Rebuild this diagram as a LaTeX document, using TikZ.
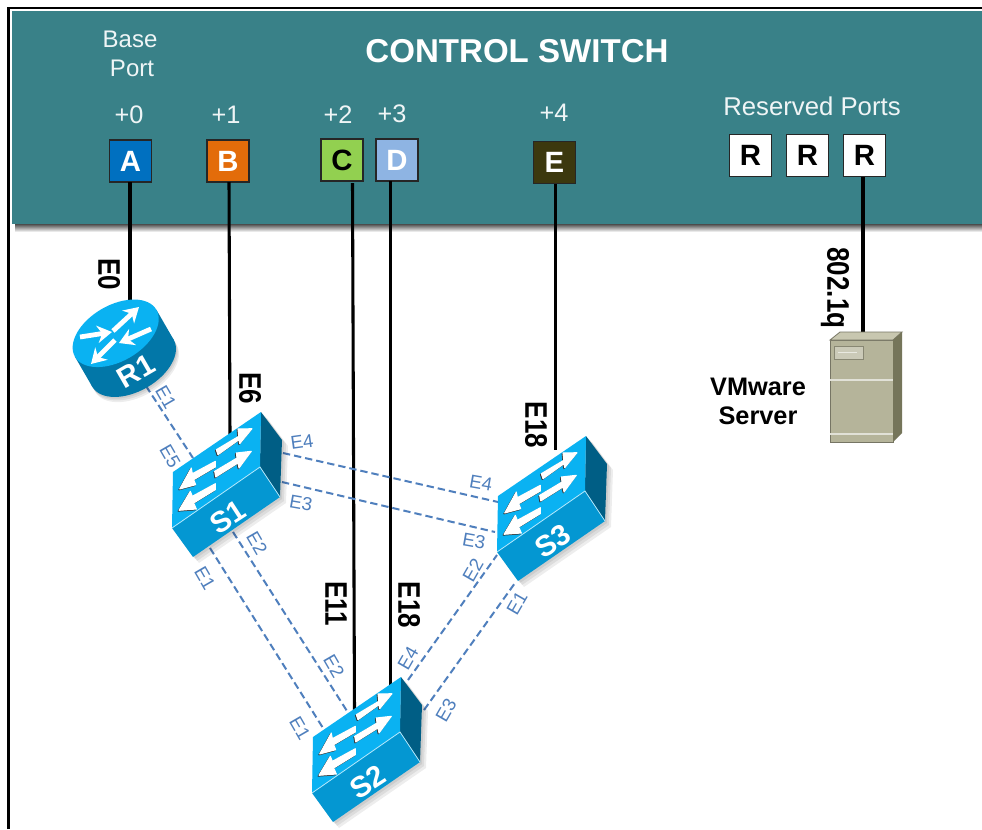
\documentclass[tikz,border=0pt]{standalone}
\usetikzlibrary{arrows.meta}
\usepackage{graphicx}
\usepackage{fontspec}
\setmainfont{Liberation Sans}
\definecolor{teal1}{HTML}{398188}
\definecolor{dash1}{HTML}{4F7FBD}
\definecolor{lab1}{HTML}{4F7FBD}
\definecolor{swtop}{HTML}{0AB2F2}
\definecolor{swfront}{HTML}{0497D2}
\definecolor{swside}{HTML}{005E85}
\definecolor{rtbody}{HTML}{0277A8}
\definecolor{srvfront}{HTML}{B5B49A}
\definecolor{srvtop}{HTML}{C8C7B0}
\definecolor{srvside}{HTML}{75755A}
\newcommand{\tallrot}[1]{\scalebox{1}[1.2]{#1}}
\tikzset{
  x=0.75pt,y=-0.75pt,
  portbox/.style={draw=black!85,line width=0.9pt,minimum size=31.5pt,inner sep=0pt,font=\fontsize{22}{24}\selectfont\bfseries,text=white},
  toplabel/.style={text=white!92!teal1,font=\fontsize{18}{20}\selectfont,inner sep=0pt},
  pluslabel/.style={text=white!92!teal1,font=\fontsize{19}{21}\selectfont,inner sep=0pt},
  blackline/.style={black,line width=2.3pt},
  dashlink/.style={dash1,line width=1.5pt,dash pattern=on 5.5pt off 3pt},
  smalllabel/.style={text=lab1,font=\fontsize{14}{16}\selectfont,inner sep=0pt},
  bigrot/.style={font=\fontsize{19.5}{21}\selectfont\bfseries,inner sep=0pt,rotate=-90,text=black},
  devlabel/.style={text=white,font=\fontsize{22}{24}\selectfont\bfseries,inner sep=0pt},
  swarrow/.style={fill=white,draw=white,line width=.8pt,line join=round},
  swarrowdark/.style={fill=black!80,draw=black!80,line width=.8pt,line join=round},
  pics/switchicon/.style={code={
    \foreach \s in {2,4,6}{
      \fill[black,opacity=.07] (\s,\s-56) -- (\s+89,\s-116) -- (\s+110,\s-88) -- (\s+108,\s-31) -- (\s+21,\s+29) -- (\s,\s) -- cycle;
    }
    \fill[swside] (89,-116) -- (110,-88) -- (108,-31) -- (88,-61) -- cycle;
    \fill[swfront] (0,0) -- (88,-61) -- (108,-31) -- (21,29) -- cycle;
    \fill[swtop] (1,-56) -- (89,-116) -- (88,-61) -- (0,0) -- cycle;
    \draw[white!70!swtop,line width=.6pt] (0,0) -- (88,-61) -- (108,-31);
    \begin{scope}[shift={(-.8,.8)}]
      \path[swarrowdark] (44.3,-78.3) -- (66.7,-91.7) -- (66,-99) -- (80,-99.3) -- (67.7,-84.3) -- (67,-88.3) -- (46,-73.3) -- cycle;
      \path[swarrowdark] (42.7,-56.7) -- (65,-70) -- (64.3,-75) -- (79.3,-76.7) -- (67,-60) -- (66,-65) -- (43.7,-51) -- cycle;
      \path[swarrowdark] (43.3,-66.7) -- (20.3,-54.3) -- (19.3,-60) -- (7.7,-39) -- (23.7,-43.3) -- (21.7,-48.3) -- (43.3,-61) -- cycle;
      \path[swarrowdark] (43.3,-44.3) -- (20.3,-31.7) -- (18.3,-36.7) -- (7,-17.7) -- (24.3,-19) -- (21.7,-25) -- (43.3,-38.3) -- cycle;
    \end{scope}
    \path[swarrow] (44.3,-78.3) -- (66.7,-91.7) -- (66,-99) -- (80,-99.3) -- (67.7,-84.3) -- (67,-88.3) -- (46,-73.3) -- cycle;
    \path[swarrow] (42.7,-56.7) -- (65,-70) -- (64.3,-75) -- (79.3,-76.7) -- (67,-60) -- (66,-65) -- (43.7,-51) -- cycle;
    \path[swarrow] (43.3,-66.7) -- (20.3,-54.3) -- (19.3,-60) -- (7.7,-39) -- (23.7,-43.3) -- (21.7,-48.3) -- (43.3,-61) -- cycle;
    \path[swarrow] (43.3,-44.3) -- (20.3,-31.7) -- (18.3,-36.7) -- (7,-17.7) -- (24.3,-19) -- (21.7,-25) -- (43.3,-38.3) -- cycle;
  }}
}
\begin{document}
\begin{tikzpicture}
\useasboundingbox (0,0) rectangle (982,829);
\fill[white] (0,0) rectangle (982,829);
% frame
\draw[black,line width=2pt] (8.5,829) -- (8.5,8) -- (982,8);
% header
\shade[top color=black!70,bottom color=white] (15,224) rectangle (982,232);
\fill[teal1] (12,11) rectangle (982,224);
\node[text=white,font=\fontsize{24.8}{26}\selectfont\bfseries,inner sep=0pt] (title) at (517,51) {CONTROL SWITCH};
\node[toplabel] (base) at (130,39) {Base};
\node[toplabel] (port) at (132,68) {Port};
\node[pluslabel] (p0) at (129,115) {+0};
\node[pluslabel] (p1) at (226,115) {+1};
\node[pluslabel] (p2) at (338,115) {+2};
\node[pluslabel] (p3) at (392,114) {+3};
\node[pluslabel] (p4) at (554,113) {+4};
\node[text=white!92!teal1,font=\fontsize{19.3}{21}\selectfont,inner sep=0pt] (resv) at (812,106) {Reserved Ports};
\node[portbox,fill={rgb,255:red,0;green,112;blue,192}] (A) at (130.5,161) {A};
\node[portbox,fill={rgb,255:red,227;green,108;blue,10}] (B) at (228,161) {B};
\node[portbox,fill={rgb,255:red,146;green,208;blue,80},text=black] (C) at (342,160) {C};
\node[portbox,fill={rgb,255:red,142;green,180;blue,227}] (D) at (397,160) {D};
\node[portbox,fill={rgb,255:red,60;green,56;blue,14}] (E) at (554.5,162.5) {E};
\node[portbox,fill=white,text=black] (R1p) at (750.5,155.5) {R};
\node[portbox,fill=white,text=black] (R2p) at (807.5,155.5) {R};
\node[portbox,fill=white,text=black] (R3p) at (864.5,155.5) {R};
% connector end points
\coordinate (aend) at (130,182);
\coordinate (bend) at (229,182);
\coordinate (cend) at (352.5,183);
\coordinate (dend) at (390.5,181);
\coordinate (eend) at (555.5,184);
\coordinate (rend) at (863,177);
\coordinate (r1top) at (130,302);
\coordinate (s1top) at (230,435);
\coordinate (s2a) at (354.5,712);
\coordinate (s2b) at (390.5,695);
\coordinate (s3top) at (555.5,450);
\coordinate (srvtopc) at (863,334);
\coordinate (r1e1) at (146,386);
\coordinate (s1e5) at (193,458);
\coordinate (s1e4) at (283,453);
\coordinate (s3e4) at (498,502);
\coordinate (s1e3) at (282,482);
\coordinate (s3e3) at (495,532);
\coordinate (s1e2) at (233,532);
\coordinate (s2e2) at (347,711);
\coordinate (s1e1) at (210,548);
\coordinate (s2e1) at (323,728);
\coordinate (s2e4) at (408,680);
\coordinate (s3e2) at (497,555);
\coordinate (s2e3) at (424,710);
\coordinate (s3e1) at (515,583);
% links
\draw[blackline] (aend) -- (r1top);
\draw[blackline] (bend) -- (s1top);
\draw[blackline] (cend) -- (s2a);
\draw[blackline] (dend) -- (s2b);
\draw[blackline] (eend) -- (s3top);
\draw[blackline] (rend) -- (srvtopc);
\draw[dashlink] (r1e1) -- (s1e5);
\draw[dashlink] (s1e4) -- (s3e4);
\draw[dashlink] (s1e3) -- (s3e3);
\draw[dashlink] (s1e2) -- (s2e2);
\draw[dashlink] (s1e1) -- (s2e1);
\draw[dashlink] (s2e4) -- (s3e2);
\draw[dashlink] (s2e3) -- (s3e1);
% router
\begin{scope}[shift={(115.7,333.3)},rotate=30]
  \foreach \s in {2,4,6}{
    \fill[black,opacity=.07] (0,34.5+\s) ellipse [x radius=47,y radius=28];
  }
  \fill[rtbody] (0,34.5) ellipse [x radius=47,y radius=28];
  \fill[rtbody] (-47,0) rectangle (47,34.5);
  \fill[swtop] (0,0) ellipse [x radius=47,y radius=28];
\end{scope}
\coordinate (ra1) at (113,331); \coordinate (ra1t) at (139,307);
\coordinate (ra2) at (151,329); \coordinate (ra2t) at (119,343);
\coordinate (ra3) at (80,337); \coordinate (ra3t) at (112,332);
\coordinate (ra4) at (115,340); \coordinate (ra4t) at (91,364);
\foreach \p/\q in {ra1/ra1t,ra2/ra2t,ra3/ra3t,ra4/ra4t}{
  \draw[white,line width=3.6pt,-{Stealth[length=11pt,width=13pt]}] (\p) -- (\q);
}
\node[devlabel,rotate=30] (r1lab) at (136,371) {R1};
% switches
\pic (s1) at (172,528) {switchicon};
\pic (s2) at (312,793) {switchicon};
\pic (s3) at (497,552) {switchicon};
\node[devlabel,rotate=33] (s1lab) at (228,517) {S1};
\node[devlabel,rotate=33] (s2lab) at (368,782) {S2};
\node[devlabel,rotate=33] (s3lab) at (553,541) {S3};
% server
\fill[srvfront,draw=black!35!srvfront,line width=.6pt] (830,340) rectangle (893,442);
\fill[srvtop,draw=black!35!srvfront,line width=.6pt] (830,340) -- (840,332) -- (902,332) -- (893,340) -- cycle;
\fill[srvside] (893,340) -- (902,332) -- (902,433) -- (893,442) -- cycle;
\fill[white!30!srvfront,draw=black!25!srvfront,line width=.5pt] (834,346) rectangle (863,359);
\draw[white!70!srvfront,line width=.7pt] (838,352) -- (857,352);
\draw[white!60!srvfront,line width=1pt] (830,380) -- (893,380);
\draw[white!60!srvfront,line width=1pt] (830,434) -- (893,434);
% text labels
\node[bigrot] (e0) at (109,274) {\tallrot{E0}};
\node[bigrot] (e6) at (250,388) {\tallrot{E6}};
\node[bigrot] (e18c) at (536,425) {\tallrot{E18}};
\node[bigrot] (e11) at (336,604) {\tallrot{E11}};
\node[bigrot] (e18d) at (409,605) {\tallrot{E18}};
\node[bigrot] (q) at (835,288) {\tallrot{802.1q}};
\node[font=\fontsize{19}{21}\selectfont\bfseries,inner sep=0pt] (vm) at (758,387) {VMware};
\node[font=\fontsize{19}{21}\selectfont\bfseries,inner sep=0pt] (srv) at (758,416) {Server};
\node[smalllabel,rotate=-60] (l1) at (166,397) {E1};
\node[smalllabel,rotate=-60] (l2) at (170,456) {E5};
\node[smalllabel,rotate=8] (l3) at (302,442) {E4};
\node[smalllabel,rotate=-10] (l4) at (301,503) {E3};
\node[smalllabel,rotate=-10] (l5) at (481,483) {E4};
\node[smalllabel,rotate=-10] (l6) at (474,541) {E3};
\node[smalllabel,rotate=-60] (l7) at (257,543) {E2};
\node[smalllabel,rotate=-60] (l8) at (205,578) {E1};
\node[smalllabel,rotate=-60] (l9) at (334,666) {E2};
\node[smalllabel,rotate=-60] (l10) at (300,728) {E1};
\node[smalllabel,rotate=60] (l11) at (408,658) {E4};
\node[smalllabel,rotate=60] (l12) at (446,710) {E3};
\node[smalllabel,rotate=60] (l13) at (473,570) {E2};
\node[smalllabel,rotate=60] (l14) at (517,603) {E1};
\end{tikzpicture}
\end{document}
